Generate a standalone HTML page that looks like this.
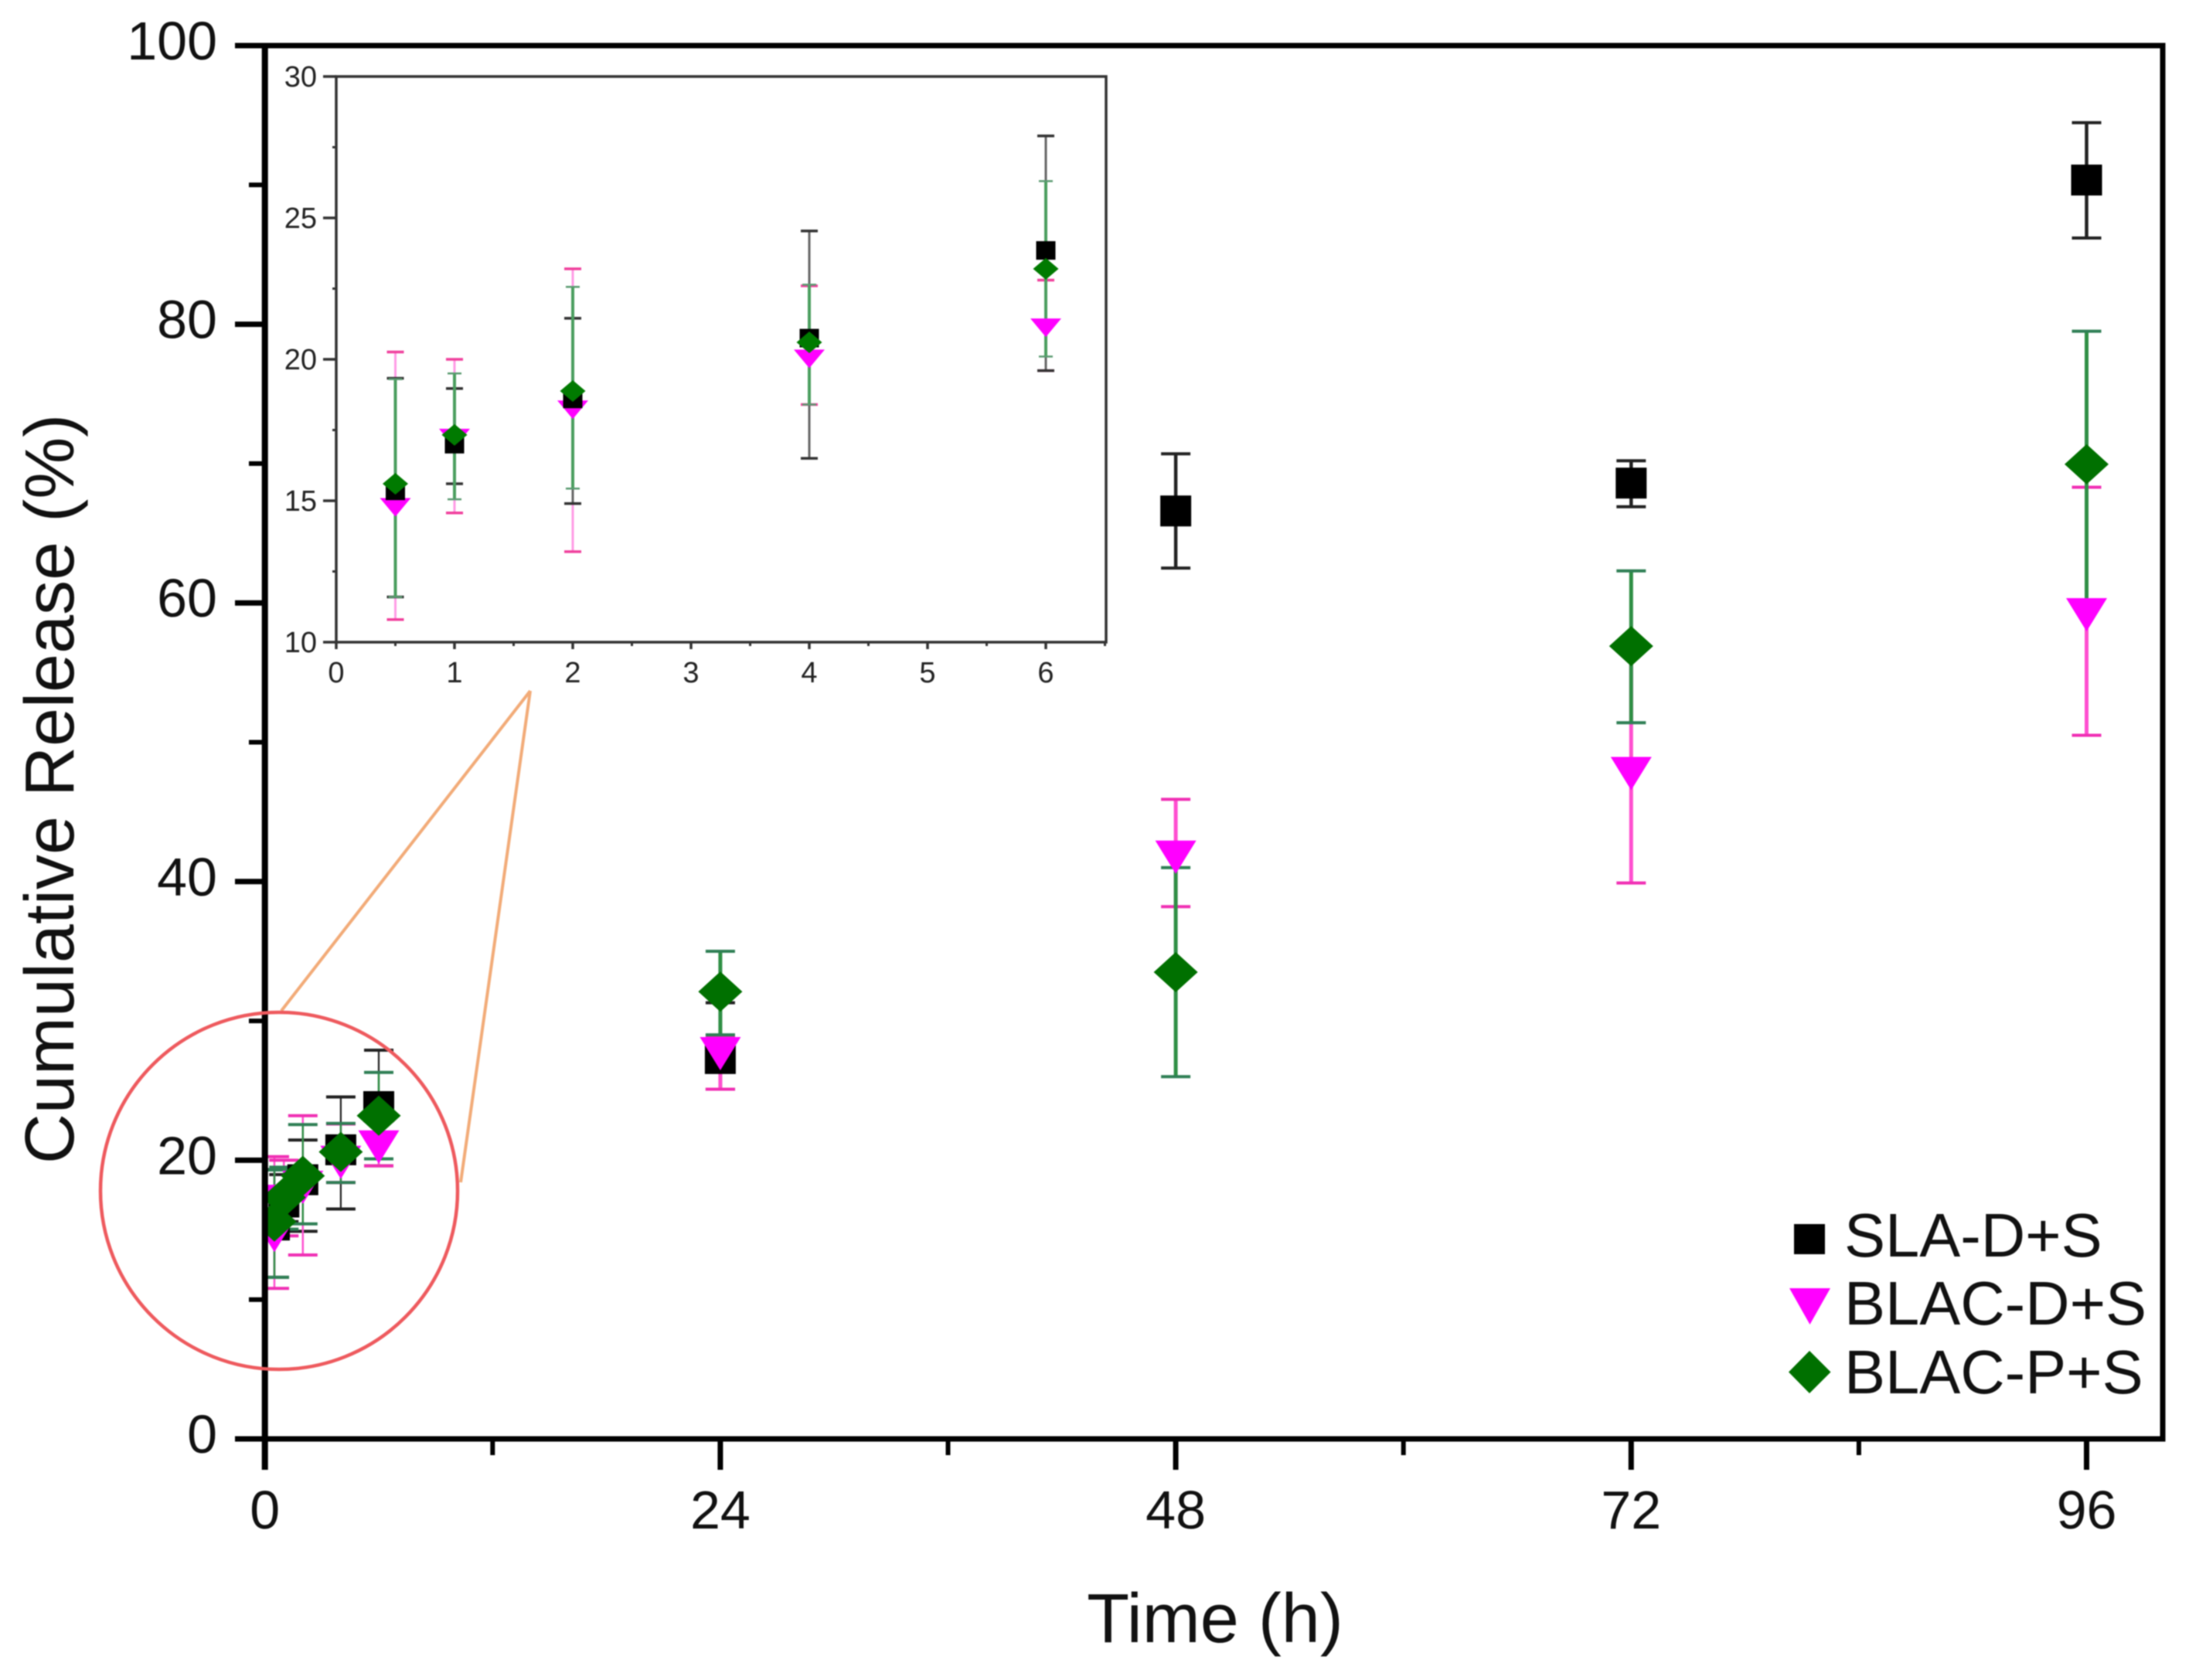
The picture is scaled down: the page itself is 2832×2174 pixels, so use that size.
<!DOCTYPE html>
<html lang="en">
<head>
<meta charset="utf-8">
<title>Cumulative Release over Time</title>
<style>
html,body{margin:0;padding:0;background:#fff;}
svg{display:block;font-family:"Liberation Sans",Arial,sans-serif;filter:blur(0.8px);}
</style>
</head>
<body>
<svg id="chart" xmlns="http://www.w3.org/2000/svg" width="2832" height="2174" viewBox="0 0 2832 2174">
  <defs>
    <clipPath id="main-clip"><rect x="343" y="40" width="2480" height="1900"/></clipPath>
  </defs>
  <rect x="0" y="0" width="2832" height="2174" fill="#fff"/>
  <g id="main-marks" clip-path="url(#main-clip)"></g>
  <g id="main-axes"></g>
  <g id="inset"></g>
  <g fill="none">
    <line x1="364" y1="1308" x2="686" y2="894" stroke="#f2ab78" stroke-width="4"/>
    <line x1="596" y1="1530" x2="686" y2="894" stroke="#f2ab78" stroke-width="4"/>
    <circle cx="361" cy="1541" r="231" stroke="#ee5a5e" stroke-width="4.5"/>
  </g>
  <text x="1572" y="2125" font-size="90" text-anchor="middle" fill="#111">Time (h)</text>
  <text transform="translate(95,1021) rotate(-90)" font-size="90" text-anchor="middle" fill="#111">Cumulative Release (%)</text>
  <g>
    <g>
      <rect x="2321" y="1584" width="40" height="39" fill="#000"/>
      <text x="2386" y="1626" font-size="79.5" fill="#111">SLA-D+S</text>
    </g>
    <g>
      <polygon points="2315,1667 2368,1667 2341.5,1714" fill="#ff00ff"/>
      <text x="2386" y="1714" font-size="79.5" fill="#111">BLAC-D+S</text>
    </g>
    <g>
      <polygon points="2314,1775.5 2341,1748 2368.5,1775.5 2341,1803" fill="#007000"/>
      <text x="2386" y="1803" font-size="79.5" fill="#111">BLAC-P+S</text>
    </g>
  </g>
</svg>
<script>
const hours = [0.5, 1, 2, 4, 6, 24, 48, 72, 96];
const slaMean = [15.35, 17.0, 18.6, 20.75, 23.85, 27.3, 66.6, 68.6, 90.35];
const slaHigh = [19.33, 18.97, 21.45, 24.54, 27.9, 31.3, 70.7, 70.2, 94.47];
const slaLow = [11.6, 15.6, 14.9, 16.5, 19.6, 25.1, 62.5, 66.9, 86.19];
const blacDMean = [14.85, 17.3, 18.3, 20.1, 21.2, 27.9, 42, 48, 59.4];
const blacDHigh = [20.26, 20, 23.2, 22.6, 22.8, 28.9, 45.9, 56.6, 68.3];
const blacDLow = [10.8, 14.57, 13.2, 18.4, 19.6, 25.1, 38.2, 39.9, 50.5];
const blacPMean = [15.6, 17.33, 18.88, 20.6, 23.2, 32.1, 33.5, 56.9, 69.95];
const blacPHigh = [19.3, 19.5, 22.56, 22.64, 26.3, 35, 41, 62.3, 79.5];
const blacPLow = [11.6, 15.05, 15.43, 18.4, 20.1, 29.0, 26, 51.4, 60.2];
const xTickLabels = [0, 24, 48, 72, 96];
const xMinorTicks = [12, 36, 60, 84];
const yTickLabels = [0, 20, 40, 60, 80, 100];
const yMinorTicks = [10, 30, 50, 70, 90];
const insetCount = 5;
const insetXTickLabels = [0, 1, 2, 3, 4, 5, 6];
const insetXMinorTicks = [0.5, 1.5, 2.5, 3.5, 4.5, 5.5, 6.5];
const insetYTickLabels = [10, 15, 20, 25, 30];
const insetYMinorTicks = [12.5, 17.5, 22.5, 27.5];

const NS = 'http://www.w3.org/2000/svg';
const xMain = h => 342.7 + h * 24.55;
const yMain = v => 1862 - v * 18.03;
const xInset = t => 435 + t * 153;
const yInset = v => 831 - (v - 10) * 36.6;

function shape(parent, tag, attrs, text) {
  const el = document.createElementNS(NS, tag);
  for (const k in attrs) el.setAttribute(k, attrs[k]);
  if (text !== undefined) el.textContent = text;
  parent.appendChild(el);
  return el;
}
function line(parent, x1, y1, x2, y2, stroke, width) {
  return shape(parent, 'line', {x1: x1, y1: y1, x2: x2, y2: y2, stroke: stroke, 'stroke-width': width});
}

function drawBars(parent, seriesName, high, low, count, xf, yf, st) {
  for (let i = 0; i < count; i++) {
    const x = xf(hours[i]);
    const yh = yf(high[i]);
    const yl = yf(low[i]);
    const thin = st.thinBelow !== undefined && hours[i] <= st.thinBelow;
    const stem = line(parent, x, yh, x, yl, st.line, thin ? st.lw / 2 : st.lw);
    
    
    const capTop = line(parent, x - st.cap, yh, x + st.cap, yh, st.capColor, st.capW);
    
    
    const capBottom = line(parent, x - st.cap, yl, x + st.cap, yl, st.capColor, st.capW);
    
    
  }
}

function drawPoints(parent, seriesName, kind, mean, count, xf, yf, st) {
  for (let i = 0; i < count; i++) {
    const x = xf(hours[i]);
    const yc = yf(mean[i]);
    let mark;
    if (kind === 'square') {
      mark = shape(parent, 'rect', {x: x - st.w / 2, y: yc - st.h / 2, width: st.w, height: st.h, fill: st.fill});
    } else if (kind === 'triangle') {
      mark = shape(parent, 'polygon', {points: (x - st.w / 2) + ',' + (yc - st.up) + ' ' + (x + st.w / 2) + ',' + (yc - st.up) + ' ' + x + ',' + (yc + st.down), fill: st.fill});
    } else {
      mark = shape(parent, 'polygon', {points: (x - st.w / 2) + ',' + yc + ' ' + x + ',' + (yc - st.h / 2) + ' ' + (x + st.w / 2) + ',' + yc + ' ' + x + ',' + (yc + st.h / 2), fill: st.fill});
    }
    
    
  }
}

/* main plot marks */
const mainMarks = document.getElementById('main-marks');
const mainSla = {line: '#222', lw: 4.5, thinBelow: 6, cap: 19, capColor: '#222', capW: 4, w: 40, h: 40, fill: '#000'};
const mainD = {line: '#ff4fd0', lw: 5, thinBelow: 6, cap: 19, capColor: '#f02fb4', capW: 4, w: 53, up: 17, down: 26, fill: '#ff00ff'};
const mainP = {line: '#2f8f45', lw: 5, thinBelow: 6, cap: 19, capColor: '#2f7f55', capW: 4, w: 57, h: 52, fill: '#007000'};
drawBars(mainMarks, 'sla-d-s', slaHigh, slaLow, hours.length, xMain, yMain, mainSla);
drawBars(mainMarks, 'blac-d-s', blacDHigh, blacDLow, hours.length, xMain, yMain, mainD);
drawBars(mainMarks, 'blac-p-s', blacPHigh, blacPLow, hours.length, xMain, yMain, mainP);
drawPoints(mainMarks, 'sla-d-s', 'square', slaMean, hours.length, xMain, yMain, mainSla);
drawPoints(mainMarks, 'blac-d-s', 'triangle', blacDMean, hours.length, xMain, yMain, mainD);
drawPoints(mainMarks, 'blac-p-s', 'diamond', blacPMean, hours.length, xMain, yMain, mainP);

/* main axes */
const mainAxes = document.getElementById('main-axes');
const frameTop = line(mainAxes, 339, 59, 2801.5, 59, '#000', 7);


const frameRight = line(mainAxes, 2798, 55.5, 2798, 1865, '#000', 7);


const xAxis = line(mainAxes, 304, 1862, 2801.5, 1862, '#000', 7);


const yAxis = line(mainAxes, 342.7, 55.5, 342.7, 1902, '#000', 8);



xTickLabels.forEach(v => {
  const x = xMain(v);
  const tick = line(mainAxes, x, 1862, x, 1902, '#000', 7);
  
  
  const label = shape(mainAxes, 'text', {x: x, y: 1978, 'font-size': 70, 'text-anchor': 'middle', fill: '#111'}, String(v));
  
  
});
xMinorTicks.forEach(v => {
  const x = xMain(v);
  const tick = line(mainAxes, x, 1862, x, 1883, '#000', 6);
  
  
});
yTickLabels.forEach(v => {
  const y = yMain(v);
  const tick = line(mainAxes, 304, y, 342.7, y, '#000', 7);
  
  
  const label = shape(mainAxes, 'text', {x: 281, y: y + 18, 'font-size': 70, 'text-anchor': 'end', fill: '#111'}, String(v));
  
  
});
yMinorTicks.forEach(v => {
  const y = yMain(v);
  const tick = line(mainAxes, 322, y, 342.7, y, '#000', 6);
  
  
});

/* inset */
const inset = document.getElementById('inset');
const insetFrame = shape(inset, 'rect', {x: 435, y: 99, width: 996, height: 732, fill: '#fff', stroke: '#333', 'stroke-width': 3.5});



const insetD = {line: '#ff9be6', lw: 3, cap: 11, capColor: '#f0409c', capW: 3.5, w: 40, up: 9, down: 15, fill: '#ff00ff'};
const insetSla = {line: '#666', lw: 3, cap: 11, capColor: '#333', capW: 3.5, w: 25, h: 24, fill: '#000'};
const insetP = {line: '#4b9e5f', lw: 4, cap: 9, capColor: '#5a9a70', capW: 2.5, w: 33, h: 28, fill: '#007a00'};
drawBars(inset, 'inset-blac-d-s', blacDHigh, blacDLow, insetCount, xInset, yInset, insetD);
drawBars(inset, 'inset-sla-d-s', slaHigh, slaLow, insetCount, xInset, yInset, insetSla);
drawBars(inset, 'inset-blac-p-s', blacPHigh, blacPLow, insetCount, xInset, yInset, insetP);
drawPoints(inset, 'inset-blac-d-s', 'triangle', blacDMean, insetCount, xInset, yInset, insetD);
drawPoints(inset, 'inset-sla-d-s', 'square', slaMean, insetCount, xInset, yInset, insetSla);
drawPoints(inset, 'inset-blac-p-s', 'diamond', blacPMean, insetCount, xInset, yInset, insetP);

insetXTickLabels.forEach(v => {
  const x = xInset(v);
  const tick = line(inset, x, 831, x, 840, '#333', 3.5);
  
  
  const label = shape(inset, 'text', {x: x, y: 883, 'font-size': 38, 'text-anchor': 'middle', fill: '#222'}, String(v));
  
  
});
insetXMinorTicks.forEach(v => {
  const x = xInset(v);
  const tick = line(inset, x, 831, x, 836, '#333', 3);
  
  
});
insetYTickLabels.forEach(v => {
  const y = yInset(v);
  const tick = line(inset, 418, y, 435, y, '#333', 3.5);
  
  
  const label = shape(inset, 'text', {x: 410, y: y + 13, 'font-size': 38, 'text-anchor': 'end', fill: '#222'}, String(v));
  
  
});
insetYMinorTicks.forEach(v => {
  const y = yInset(v);
  const tick = line(inset, 430, y, 435, y, '#333', 3);
  
  
});
</script>
</body>
</html>
